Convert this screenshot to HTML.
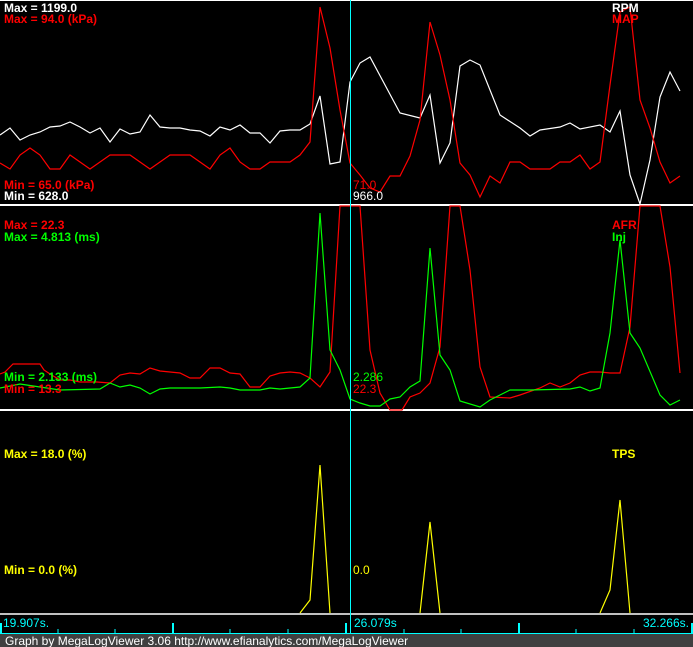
<!DOCTYPE html>
<html><head><style>
body{margin:0;background:#000;}
svg{display:block;}
text{font-family:"Liberation Sans",Arial,sans-serif;font-size:12px;}
.b{font-weight:bold;}
</style></head><body>
<svg width="693" height="647" xmlns="http://www.w3.org/2000/svg">
<rect width="693" height="647" fill="#000"/>
<line x1="0" y1="0.5" x2="693" y2="0.5" stroke="#fff"/>
<line x1="0" y1="205" x2="693" y2="205" stroke="#fff" stroke-width="2"/>
<line x1="0" y1="410" x2="693" y2="410" stroke="#fff" stroke-width="2"/>
<line x1="0" y1="614" x2="693" y2="614" stroke="#fff" stroke-width="1.5"/>
<g fill="none" stroke-width="1.2">
<polyline stroke="#fff" points="0,135 10,128 20,140 30,135 40,132 50,127 60,126 70,122 80,127 90,133 100,128 110,142 120,129 130,134 140,132 150,115 160,127 170,128 180,128 190,130 200,131 210,136 220,127 230,130 240,125 250,133 260,133 270,143 280,131 290,130 300,130 310,124 320,96 330,164 340,162 350,82 360,63 370,57 400,113 420,118 430,95 440,163 450,143 460,66 470,60 480,65 500,115 520,128 530,136 540,130 560,127 570,123 580,129 600,125 610,132 620,111 630,175 640,204 650,160 660,97 670,72 680,91"/>
<polyline stroke="#f00" points="0,163 10,169 20,155 30,148 40,155 50,169 60,169 70,155 80,162 90,169 100,162 110,155 120,155 130,155 140,162 150,169 160,162 170,155 180,155 190,155 200,162 210,169 220,155 230,148 240,162 250,169 260,169 270,162 280,162 290,162 300,155 310,142 320,7 330,48 340,110 350,163 360,175 370,188 380,192 390,176 400,176 410,156 420,120 430,22 440,55 450,100 460,163 470,175 480,197 490,176 500,183 510,162 520,162 530,169 550,169 560,162 570,162 580,155 590,169 600,162 610,85 620,12 630,7 640,100 650,128 660,162 670,183 680,176"/>
<polyline stroke="#f00" points="0,374 5,372 13,364 40,364 44,370 50,374 60,380 70,380 80,382 97,382 110,383 120,375 130,373 140,374 150,368 160,371 170,372 180,373 190,378 200,378 210,368 220,368 230,373 240,374 250,387 260,387 270,376 280,373 290,372 300,373 310,378 320,387 330,372 340,206 360,206 370,350 380,393 390,410 402,410 410,397 420,393 430,383 440,347 450,206 460,206 470,270 480,367 490,397 510,398 520,395 540,388 550,383 560,387 570,383 580,375 590,372 600,372 610,373 620,373 630,327 640,206 660,206 670,267 680,373"/>
<polyline stroke="#0f0" points="0,388 20,384 40,387 60,390 100,389 110,383 120,387 130,385 140,388 150,394 160,389 170,388 200,388 220,387 230,388 240,390 260,390 270,388 280,389 300,387 310,378 320,213 330,350 340,370 350,399 360,403 370,406 380,406 390,399 400,397 410,387 420,381 430,248 440,355 450,370 460,401 480,407 490,400 500,395 510,390 530,390 570,389 580,387 590,391 600,388 610,333 620,240 630,333 640,348 660,395 670,405 680,400"/>
<polyline stroke="#ff0" points="300,613 310,600 320,465 330,613"/>
<polyline stroke="#ff0" points="420,613 430,522 440,613"/>
<polyline stroke="#ff0" points="600,613 610,590 620,500 630,613"/>
</g>
<line x1="350.5" y1="0" x2="350.5" y2="634" stroke="#0ff"/>
<text x="4" y="12" class="b" fill="#fff">Max = 1199.0</text>
<text x="4" y="23" class="b" fill="#f00">Max = 94.0 (kPa)</text>
<text x="4" y="189" class="b" fill="#f00">Min = 65.0 (kPa)</text>
<text x="4" y="200" class="b" fill="#fff">Min = 628.0</text>
<text x="612" y="12" class="b" fill="#fff">RPM</text>
<text x="612" y="23" class="b" fill="#f00">MAP</text>
<text x="353" y="189" fill="#f00">71.0</text>
<text x="353" y="200" fill="#fff">966.0</text>
<text x="4" y="229" class="b" fill="#f00">Max = 22.3</text>
<text x="4" y="241" class="b" fill="#0f0">Max = 4.813 (ms)</text>
<text x="4" y="381" class="b" fill="#0f0">Min = 2.133 (ms)</text>
<text x="4" y="393" class="b" fill="#f00">Min = 13.3</text>
<text x="612" y="229" class="b" fill="#f00">AFR</text>
<text x="612" y="241" class="b" fill="#0f0">Inj</text>
<text x="353" y="381" fill="#0f0">2.286</text>
<text x="353" y="393" fill="#f00">22.3</text>
<text x="4" y="458" class="b" fill="#ff0">Max = 18.0 (%)</text>
<text x="612" y="458" class="b" fill="#ff0">TPS</text>
<text x="4" y="574" class="b" fill="#ff0">Min = 0.0 (%)</text>
<text x="353" y="574" fill="#ff0">0.0</text>
<text x="3" y="627" fill="#0ff">19.907s.</text>
<text x="354" y="627" fill="#0ff">26.079s</text>
<text x="689" y="627" fill="#0ff" text-anchor="end">32.266s.</text>
<line x1="0" y1="633.5" x2="693" y2="633.5" stroke="#0ff"/>
<g stroke="#0ff" stroke-width="2">
<line x1="1" y1="623" x2="1" y2="634"/><line x1="173" y1="623" x2="173" y2="634"/><line x1="346" y1="623" x2="346" y2="634"/><line x1="519" y1="623" x2="519" y2="634"/><line x1="692" y1="623" x2="692" y2="634"/>
</g>
<g stroke="#0ff" stroke-width="1">
<line x1="58" y1="629" x2="58" y2="634"/><line x1="115" y1="629" x2="115" y2="634"/><line x1="230" y1="629" x2="230" y2="634"/><line x1="288" y1="629" x2="288" y2="634"/><line x1="404" y1="629" x2="404" y2="634"/><line x1="461" y1="629" x2="461" y2="634"/><line x1="576" y1="629" x2="576" y2="634"/><line x1="634" y1="629" x2="634" y2="634"/>
</g>
<rect x="0" y="634" width="693" height="13" fill="#404040"/>
<text x="5" y="645" fill="#fff">Graph by MegaLogViewer 3.06 http://www.efianalytics.com/MegaLogViewer</text>
</svg>
</body></html>
